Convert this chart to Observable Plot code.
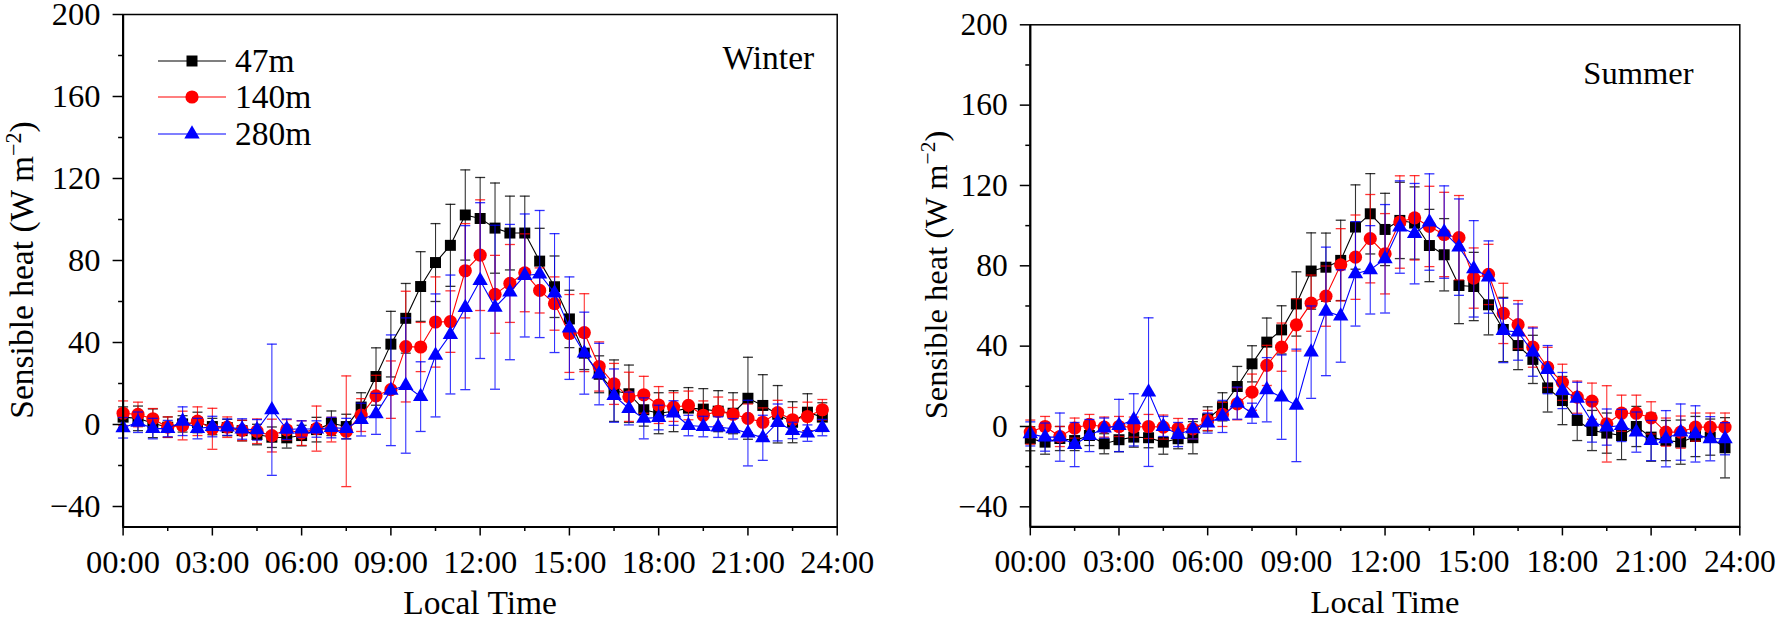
<!DOCTYPE html>
<html><head><meta charset="utf-8">
<script src="https://cdn.jsdelivr.net/npm/d3@7"></script>
<script src="https://cdn.jsdelivr.net/npm/@observablehq/plot@0.6"></script>
<style>
html,body{margin:0;padding:0;background:#fff;}
#wrap{position:relative;width:1777px;height:620px;overflow:hidden;background:#fff;}
#winter{position:absolute;left:0;top:0;}
#summer{position:absolute;left:880px;top:0;}
svg{overflow:visible;}
</style></head><body>
<div id="wrap"><div id="winter"></div><div id="summer"></div></div>
<script>
// ---- data ----
const hours = [0,0.5,1,1.5,2,2.5,3,3.5,4,4.5,5,5.5,6,6.5,7,7.5,8,8.5,9,9.5,10,10.5,11,11.5,12,12.5,13,13.5,14,14.5,15,15.5,16,16.5,17,17.5,18,18.5,19,19.5,20,20.5,21,21.5,22,22.5,23,23.5];
const xTickHours = [0,3,6,9,12,15,18,21,24];
const xMinorHours = [1.5,4.5,7.5,10.5,13.5,16.5,19.5,22.5];
const yTicks = [-40,0,40,80,120,160,200];
const yMinorTicks = [-20,20,60,100,140,180];
const xDomain = [0,24];
const yDomain = [-50,200];
const seriesNames = ["47m","140m","280m"];
const seasons = ["Winter","Summer"];

const winter47 = [3.6,3,0.6,-1.3,0.3,1,-1,-1.5,-3,-4.9,-6.2,-6.5,-5.4,-2.5,0.6,-1,8.5,23.4,39.2,51.8,67.3,79,87.4,102.2,100.5,95.8,93.4,93.4,79.7,67.2,51.5,34.8,24.5,16.5,15,7.2,5.5,6.5,8,7.5,6.5,5.5,12.8,9.3,5,1.1,6,3.6];
const winter140 = [5.5,4.9,2.8,-1.3,-0.5,1.6,-2.1,-1.3,-2.9,-3.3,-5.4,-2.6,-4.2,-2,-2.5,-3.3,4.6,14,17,38,37.8,50,50.2,75,82.6,63.5,68.8,74,65.4,59,44.4,44.8,28.3,19.8,13.5,14.5,9.5,8.5,9.3,4.5,6.4,5,3,1.1,5.8,2.3,3.9,7.2];
const winter280 = [-1.6,1.1,-2,-2,1.6,-2,-1,-1.3,-2.2,-2.6,7.2,-2.3,-2.2,-2.2,-1.5,-2,2.4,5.2,16.7,19,13.6,33.7,43.9,57,70.2,57.2,64.6,72.7,73.4,64.1,47,34.8,24.6,14.1,7.8,3,3.4,5.6,-0.5,-1,-1.3,-2.1,-4.2,-6.5,1,-2.9,-4.2,-1.5];
const winter47Err = [5,6,7,5,4,5,4,4,5,5,5,5,5,6,6,6,7,14,16,17,17,19,20,22,20,22,18,18,16,15,14,8,9,15,14,8,10,10,10,10,10,10,20,15,14,10,9,7];
const winter140Err = [6,6,5,5,7,7,10,5,5,6,8,5,6,11,6,27,8,10,14,27,12,22,15,23,27,19,19,19,11,13,19,19,12,10,12,9,9,7,7,7,7,7,7,7,6,6,7,5];
const winter280Err = [5,5,5,4,7,5,5,4,5,5,32,5,4,4,5,5,8,10,27,33,17,30,29,40,38,40,33,30,31,29,25,20,15,13,8,10,6,6,5,5,5,5,16,11,9,4,4,4];

const summer47 = [-6.1,-7.8,-6,-7,-4.5,-8.6,-6.6,-5.3,-5.6,-7.8,-6.1,-5.6,3.8,9.8,19.9,31.2,42,48.1,61,77.4,79.3,82.7,99.3,105.9,98.1,102.6,101.3,90.1,85.5,70.2,69.7,60.6,48.3,40.3,33.4,19.2,12.9,3,-2,-3.3,-4.5,0,-5.3,-7,-7.8,-5,-5.3,-10.6];
const summer140 = [-2.8,0,-5,-0.8,1,-0.3,0,-0.3,0,-0.3,-1,-1.2,3,6,11.3,17.1,30.4,39.5,50.6,61.4,64.9,80.5,84.3,93.5,86,101.8,103.9,99.6,95.6,94,73.9,75.7,56.3,50.7,39.5,29.4,22,14.6,12.6,1.3,6.6,6.6,4.3,-2.8,-2.8,-0.3,-0.3,-0.3];
const summer280 = [-3.7,-5.3,-5.3,-9,-4.5,-0.8,0.5,3.3,17.1,0,-4,-1.2,1.7,5,11.6,6.6,18.3,14.6,10.5,37,57.3,55,76,78,83.5,99.3,96,101.8,96.8,89.3,78.5,74.4,47.8,47,37,28.3,17.9,14,2.2,-0.3,0.5,-2.8,-7,-6.1,-2.8,-3.7,-6.1,-6.1];
const summer47Err = [6,6,6,5,5,5,6,5,5,6,5,8,6,7,10,9,12,12,16,19,17,20,21,20,18,19,18,18,18,19,17,15,16,12,12,12,12,10,10,10,12,10,12,10,11,10,9,15];
const summer140Err = [6,5,5,5,5,5,5,5,6,6,5,5,5,6,8,9,10,12,13,14,15,18,21,22,20,23,21,20,21,21,15,15,15,12,10,10,9,8,9,19,9,9,8,7,8,7,7,7];
const summer280Err = [6,7,12,11,8,5,13,13,37,5,6,5,5,8,8,5,16,21,28,23,32,23,26,22,27,23,25,24,23,24,24,18,16,14,12,12,9,8,10,9,8,10,10,14,14,14,11,8];

// ---- styles ----
const FONT = "'Liberation Serif','Times New Roman',Times,serif";
const colors = {"47m":"#000000","140m":"#ff0000","280m":"#0000ff"};
const symbols = {"47m":"square","140m":"circle","280m":"triangle"};
const radii = {"47m":6.2,"140m":6.6,"280m":5.7};
const d3Sym = {"47m":d3.symbolSquare,"140m":d3.symbolCircle,"280m":d3.symbolTriangle};
const capSymbol = {draw(ctx, size){ const h = Math.sqrt(size/Math.PI); ctx.moveTo(-h,0); ctx.lineTo(h,0); }};

function makePanel(o){
  const marks = [];
  o.series.forEach(([name, vals, errs]) => {
    const rows = hours.map((h,i)=>({h, v: vals[i], lo: vals[i]-errs[i], hi: vals[i]+errs[i]}));
    const c = colors[name];
    marks.push(Plot.ruleX(rows, {x:"h", y1:"lo", y2:"hi", stroke:c, strokeWidth:1.1, strokeOpacity:0.8}));
    marks.push(Plot.dot(rows, {x:"h", y:"lo", symbol:capSymbol, r:5, stroke:c, fill:"none", strokeWidth:1.3, strokeOpacity:0.8}));
    marks.push(Plot.dot(rows, {x:"h", y:"hi", symbol:capSymbol, r:5, stroke:c, fill:"none", strokeWidth:1.3, strokeOpacity:0.8}));
    marks.push(Plot.line(rows, {x:"h", y:"v", stroke:c, strokeWidth:1.1}));
    marks.push(Plot.dot(rows, {x:"h", y:"v", symbol:symbols[name], r:radii[name], fill:c, stroke:"none"}));
  });
  const f = o.font;
  const svg = Plot.plot({
    width: o.width, height: 620,
    marginLeft: o.ml, marginRight: o.mr, marginTop: o.mt, marginBottom: o.mb,
    style: {fontFamily: FONT, fontSize: f+"px", color:"#000", background:"transparent", overflow:"visible"},
    x: {type:"linear", domain: xDomain},
    y: {type:"linear", domain: yDomain},
    marks: [
      ...marks,
      Plot.frame({stroke:"#000", strokeWidth:1.5}),
      Plot.ruleX([xDomain[0]], {stroke:"#000", strokeWidth:2.2}),
      Plot.ruleY([yDomain[0]], {stroke:"#000", strokeWidth:2.2}),
      Plot.axisX({ticks:xTickHours, tickFormat: h => String(h).padStart(2,"0")+":00", tickSize:9, tickPadding:14, fontSize:f, strokeWidth:1.5, label:null}),
      Plot.axisX({ticks:xMinorHours, tickSize:4.5, fill:"none", strokeWidth:1.5, label:null}),
      Plot.axisY({ticks:yTicks, tickFormat: d => d < 0 ? "\u2212"+Math.abs(d) : String(d), tickSize:10, tickPadding:12.6, fontSize:f, strokeWidth:1.5, label:null}),
      Plot.axisY({ticks:yMinorTicks, tickSize:4.5, fill:"none", strokeWidth:1.5, label:null}),
      Plot.text([o.season], {frameAnchor:"top-right", textAnchor:"end", lineAnchor:"top", dx:o.sdx, dy:o.sdy, fontSize:o.sfont, fill:"#000"}),
      Plot.text(["Local Time"], {frameAnchor:"bottom", lineAnchor:"top", dy:o.xldy, fontSize:o.sfont, fill:"#000"})
    ]
  });
  const s = d3.select(svg);
  // y axis title with superscript
  const t = s.append("text")
    .attr("transform", `translate(${o.ytx},${o.yty}) rotate(-90)`)
    .attr("text-anchor","middle")
    .attr("fill","#000")
    .style("font-family", FONT).style("font-size", o.sfont+"px");
  t.append("tspan").text("Sensible heat (W m");
  t.append("tspan").attr("dy", -0.38*f).style("font-size", (0.68*f)+"px").text("\u22122");
  t.append("tspan").attr("dy", 0.38*f).text(")");
  if (o.legend){
    const rowsY = [61, 97, 134];
    seriesNames.forEach((name,i)=>{
      const g = s.append("g").attr("transform", `translate(0,${rowsY[i]})`);
      g.append("line").attr("x1",158).attr("x2",226).attr("y1",0).attr("y2",0).attr("stroke",colors[name]).attr("stroke-width",1.2);
      g.append("path").attr("transform","translate(192,0)").attr("d", d3.symbol(d3Sym[name], Math.PI*radii[name]*radii[name])()).attr("fill",colors[name]);
      g.append("text").attr("x",235).attr("y",0).attr("dy","0.34em").attr("text-anchor","start").attr("fill","#000")
        .style("font-family",FONT).style("font-size",o.sfont+"px").text(name);
    });
  }
  return svg;
}

document.getElementById("winter").appendChild(makePanel({
  series: [["47m",winter47,winter47Err],["140m",winter140,winter140Err],["280m",winter280,winter280Err]],
  width: 880, ml:122.6, mr:43.3, mt:14, mb:93.5, font:32.5, sfont:33.5,
  season: seasons[0], sdx:-23, sdy:30.5, xldy:63, ytx:33, yty:270, legend:true
}));
document.getElementById("summer").appendChild(makePanel({
  series: [["47m",summer47,summer47Err],["140m",summer140,summer140Err],["280m",summer280,summer280Err]],
  width: 897, ml:149.8, mr:37.7, mt:24.3, mb:93.6, font:31.5, sfont:32.5,
  season: seasons[1], sdx:-46.3, sdy:36.6, xldy:63.5, ytx:67, yty:275, legend:false
}));
</script>
</body></html>
